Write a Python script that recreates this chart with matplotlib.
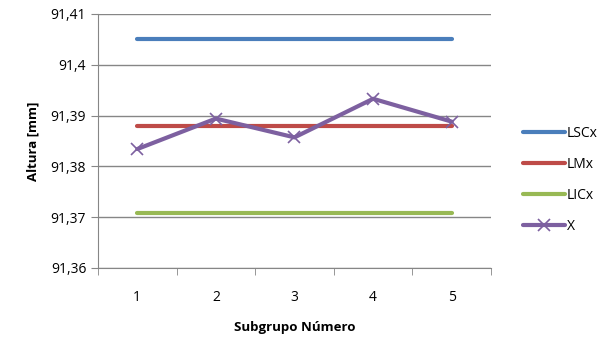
import matplotlib.pyplot as plt
from matplotlib.ticker import FuncFormatter, FixedLocator
import numpy as np

plt.rcParams['font.family'] = ['Open Sans', 'DejaVu Sans']

subgrupos = [1, 2, 3, 4, 5]
lsc = [91.4051] * 5
lm = [91.3880] * 5
lic = [91.3708] * 5
x_media = [91.3834, 91.3894, 91.3857, 91.3933, 91.3888]

fig = plt.figure(figsize=(6.01, 3.40), dpi=100)
ax = fig.add_axes([0.163, 0.212, 0.654, 0.747])

ax.plot(subgrupos, lsc, color='#4A7EBB', lw=3, solid_capstyle='round', label='LSCx')
ax.plot(subgrupos, lm, color='#BE4B48', lw=3, solid_capstyle='round', label='LMx')
ax.plot(subgrupos, lic, color='#98B954', lw=3, solid_capstyle='round', label='LICx')
ax.plot(subgrupos, x_media, color='#7D60A0', lw=3, marker='x', ms=9, mew=1.2,
        solid_capstyle='round', label='X')

ax.set_xlim(0.5, 5.5)
ax.set_ylim(91.36, 91.41)
ax.set_yticks(np.arange(91.36, 91.4101, 0.01))
ax.yaxis.set_major_formatter(FuncFormatter(lambda v, p: ('%g' % round(v, 2)).replace('.', ',')))
ax.set_xticks(subgrupos)
ax.xaxis.set_minor_locator(FixedLocator(np.arange(0.5, 5.6, 1)))
ax.tick_params(axis='x', which='major', length=0, pad=16, labelsize=10)
ax.tick_params(axis='x', which='minor', length=5, direction='out', color='#868686')
ax.tick_params(axis='y', length=5, direction='out', color='#868686', labelsize=10)

ax.grid(axis='y', color='#868686', lw=1)
ax.set_axisbelow(True)
for s in ['top', 'right']:
    ax.spines[s].set_visible(False)
for s in ['left', 'bottom']:
    ax.spines[s].set_color('#868686')

ax.set_xlabel('Subgrupo Número', fontweight='bold', fontsize=9.5, va='center')
ax.xaxis.set_label_coords(0.5, -0.236)
ax.set_ylabel('Altura [mm]', fontweight='bold', fontsize=9.5, labelpad=8)

ax.legend(loc='center left', bbox_to_anchor=(1.05, 0.345), frameon=False,
          fontsize=10, handlelength=3, handletextpad=0.15, labelspacing=1.15)

fig.savefig('out.png', dpi=100)
